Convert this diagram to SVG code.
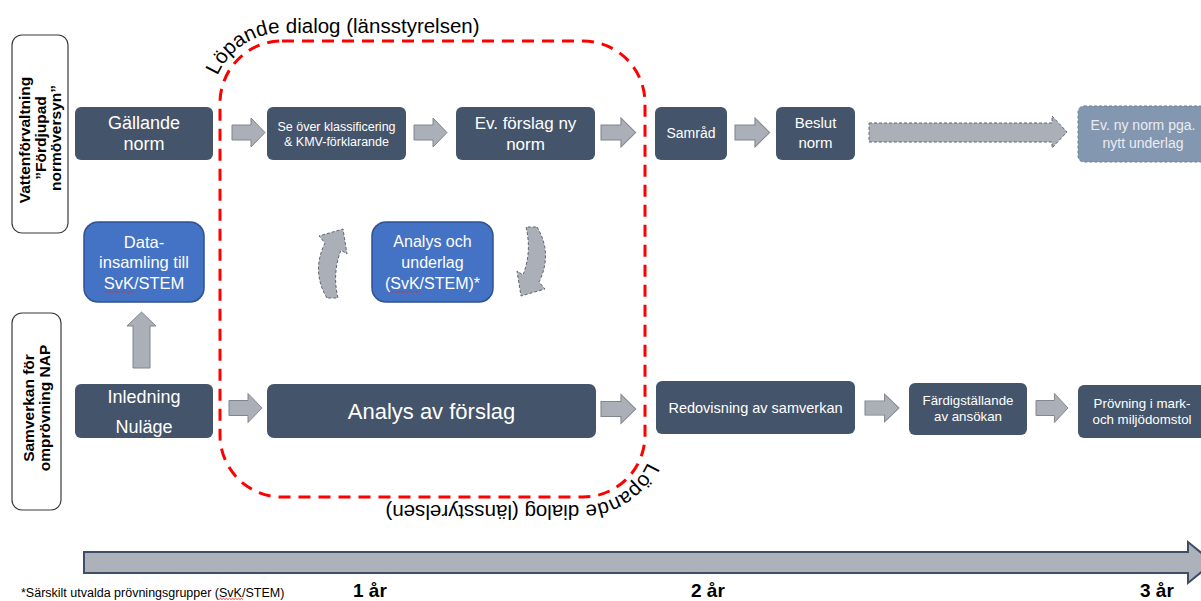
<svg xmlns="http://www.w3.org/2000/svg" xmlns:xlink="http://www.w3.org/1999/xlink" width="1201" height="601" viewBox="0 0 1201 601">
<style>
text{font-family:"Liberation Sans",Arial,sans-serif}
.box{fill:#44546A}
.w{fill:#ffffff;text-anchor:middle}
.blue{fill:#4472C4;stroke:#2F528F;stroke-width:1.5}
.arr{fill:#ABAFB7;stroke:#80858E;stroke-width:1}
.darr{fill:#ABAFB7;stroke:#5E6673;stroke-width:1;stroke-dasharray:3 2}
.side{fill:#ffffff;stroke:#3a3a3a;stroke-width:1.2}
.sl{font-weight:bold;font-size:15.5px;fill:#000;text-anchor:middle}
.yr{font-weight:bold;font-size:19px;fill:#000}
.wavy{fill:none;stroke:#E0302A;stroke-width:0.9}
.dlg{font-size:20.5px;fill:#000}
</style>
<defs>
<path id="ra" d="M0 -7.5 L19 -7.5 L19 -14.5 L33 0 L19 14.5 L19 7.5 L0 7.5 Z"/>
<path id="ca" d="M327 298 C316 280 316 261 325 243 L319 236 L343 229 L347 254 L341 250 C335 265 334 282 338 298 Z"/>
</defs>

<g id="lane-vatten">
<rect class="side" x="12" y="35" width="56" height="198" rx="10"/>
<text class="sl" transform="translate(30 140) rotate(-90)">Vattenförvaltning</text>
<text class="sl" transform="translate(45.5 138) rotate(-90)">”Fördjupad</text>
<text class="sl" transform="translate(61 138) rotate(-90)">normöversyn”</text>
</g>
<g id="lane-samverkan">
<rect class="side" x="12" y="313" width="49" height="197" rx="10"/>
<text class="sl" transform="translate(34 408) rotate(-90)">Samverkan för</text>
<text class="sl" transform="translate(50 408) rotate(-90)">omprövning NAP</text>
</g>

<g id="dialog">
<rect x="220" y="41" width="425" height="456" rx="62" fill="none" stroke="#FF0000" stroke-width="3" stroke-dasharray="12 8"/>
<path id="dtop" d="M212 60 L212 103 A70 70 0 0 1 282 33 L640 33" fill="none"/>
<path id="dbot" d="M653 400 L653 435 A70 70 0 0 1 583 505 L250 505" fill="none"/>
<text class="dlg"><textPath xlink:href="#dtop" href="#dtop" startOffset="71">Löpande dialog (länsstyrelsen)</textPath></text>
<text class="dlg"><textPath xlink:href="#dbot" href="#dbot" startOffset="63">Löpande dialog (länsstyrelsen)</textPath></text>
</g>

<g id="gallande-norm">
<rect class="box" x="75" y="107" width="138" height="53" rx="6"/>
<text class="w" x="144" y="129" font-size="18">Gällande</text>
<text class="w" x="144" y="150" font-size="18">norm</text>
</g>
<g id="se-over">
<rect class="box" x="267" y="107" width="139" height="53" rx="6"/>
<text class="w" x="336.5" y="131" font-size="12.5">Se över klassificering</text>
<text class="w" x="336.5" y="146" font-size="12.5">&amp; KMV-förklarande</text>
</g>
<g id="ev-forslag">
<rect class="box" x="456" y="107" width="139" height="53" rx="6"/>
<text class="w" x="525.5" y="129" font-size="17">Ev. förslag ny</text>
<text class="w" x="525.5" y="150" font-size="17">norm</text>
</g>
<g id="samrad">
<rect class="box" x="655" y="107" width="72" height="53" rx="6"/>
<text class="w" x="691" y="138" font-size="14">Samråd</text>
</g>
<g id="beslut-norm">
<rect class="box" x="776" y="107" width="79" height="53" rx="6"/>
<text class="w" x="815.5" y="128" font-size="15">Beslut</text>
<text class="w" x="815.5" y="148" font-size="15">norm</text>
</g>
<g id="ev-ny-norm">
<rect x="1078" y="106" width="130" height="56" rx="6" fill="#8497B0" stroke="#6A7D98" stroke-width="1" stroke-dasharray="3 2"/>
<text x="1143" y="130" font-size="14" fill="#E9EDF3" text-anchor="middle">Ev. ny norm pga.</text>
<text x="1143" y="148" font-size="14" fill="#E9EDF3" text-anchor="middle">nytt underlag</text>
</g>

<g id="datainsamling">
<rect class="blue" x="84" y="222" width="120" height="80" rx="14"/>
<text class="w" x="144" y="248" font-size="16.5">Data-</text>
<text class="w" x="144" y="268" font-size="16.5">insamling till</text>
<text class="w" x="144" y="289" font-size="16.5">SvK/STEM</text>
<path class="wavy" d="M104 292.5 l1.5 -1.5 l1.5 1.5 l1.5 -1.5 l1.5 1.5 l1.5 -1.5 l1.5 1.5 l1.5 -1.5 l1.5 1.5 l1.5 -1.5 l1.5 1.5 l1.5 -1.5 l1.5 1.5 l1.5 -1.5 l1.5 1.5 l1.5 -1.5 l1.5 1.5 l1.5 -1.5 l1.5 1.5 l1.5 -1.5 l1.5 1.5"/>
</g>
<g id="analys-underlag">
<rect class="blue" x="372" y="222" width="121" height="80" rx="14"/>
<text class="w" x="432.5" y="247" font-size="16">Analys och</text>
<text class="w" x="432.5" y="268" font-size="16">underlag</text>
<text class="w" x="432.5" y="289" font-size="16">(SvK/STEM)*</text>
<path class="wavy" d="M390 292.5 l1.5 -1.5 l1.5 1.5 l1.5 -1.5 l1.5 1.5 l1.5 -1.5 l1.5 1.5 l1.5 -1.5 l1.5 1.5 l1.5 -1.5 l1.5 1.5 l1.5 -1.5 l1.5 1.5 l1.5 -1.5 l1.5 1.5 l1.5 -1.5 l1.5 1.5 l1.5 -1.5 l1.5 1.5 l1.5 -1.5 l1.5 1.5"/>
</g>

<g id="inledning">
<rect class="box" x="75" y="384" width="138" height="54" rx="6"/>
<text class="w" x="144" y="403" font-size="18">Inledning</text>
<text class="w" x="144" y="433" font-size="18">Nuläge</text>
</g>
<g id="analys-forslag">
<rect class="box" x="267" y="384" width="329" height="54" rx="7"/>
<text class="w" x="431.5" y="419" font-size="22">Analys av förslag</text>
</g>
<g id="redovisning">
<rect class="box" x="656" y="381" width="199" height="53" rx="6"/>
<text class="w" x="755.5" y="413" font-size="14.5">Redovisning av samverkan</text>
</g>
<g id="fardigstallande">
<rect class="box" x="909" y="383" width="118" height="52" rx="6"/>
<text class="w" x="968" y="405" font-size="13.3">Färdigställande</text>
<text class="w" x="968" y="421" font-size="13.3">av ansökan</text>
</g>
<g id="provning">
<rect class="box" x="1078" y="385" width="135" height="53" rx="6"/>
<text class="w" x="1142" y="408" font-size="13.3">Prövning i mark-</text>
<text class="w" x="1142" y="424" font-size="13.3">och miljödomstol</text>
</g>

<g id="connectors">
<use href="#ra" xlink:href="#ra" class="arr" transform="translate(232 132.5)"/>
<use href="#ra" xlink:href="#ra" class="arr" transform="translate(414 132.5)"/>
<use href="#ra" xlink:href="#ra" class="arr" transform="translate(601 132.5) scale(1.05 1)"/>
<use href="#ra" xlink:href="#ra" class="arr" transform="translate(735 132.5) scale(1.05 1)"/>
<path class="darr" d="M869 123 L1052 123 L1052 116 L1067 132 L1052 148 L1052 142 L869 142 Z"/>
<path class="arr" d="M133 368 L133 326 L127 326 L141.5 312 L156 326 L150 326 L150 368 Z"/>
<use href="#ca" xlink:href="#ca" class="darr"/>
<use href="#ca" xlink:href="#ca" class="darr" transform="translate(864 525) rotate(180)"/>
<use href="#ra" xlink:href="#ra" class="arr" transform="translate(229 408)"/>
<use href="#ra" xlink:href="#ra" class="arr" transform="translate(601 409) scale(1.05 1)"/>
<use href="#ra" xlink:href="#ra" class="arr" transform="translate(865 408) scale(1.03 0.95)"/>
<use href="#ra" xlink:href="#ra" class="arr" transform="translate(1036 408) scale(0.97 1)"/>
</g>

<g id="timeline">
<path d="M84 552 L1188 552 L1188 542 L1213 562.5 L1188 583 L1188 573 L84 573 Z" fill="#ADB1B9" stroke="#3E4D68" stroke-width="2"/>
<text class="yr" x="353" y="597">1 år</text>
<text class="yr" x="691" y="597">2 år</text>
<text class="yr" x="1140" y="597">3 år</text>
</g>

<g id="footnote">
<text x="21" y="597" font-size="12.5" fill="#000">*Särskilt utvalda prövningsgrupper (SvK/STEM)</text>
<path class="wavy" d="M219 599.5 l1.5 -1.2 l1.5 1.2 l1.5 -1.2 l1.5 1.2 l1.5 -1.2 l1.5 1.2 l1.5 -1.2 l1.5 1.2 l1.5 -1.2 l1.5 1.2 l1.5 -1.2 l1.5 1.2 l1.5 -1.2 l1.5 1.2 l1.5 -1.2 l1.5 1.2"/>
</g>
</svg>
